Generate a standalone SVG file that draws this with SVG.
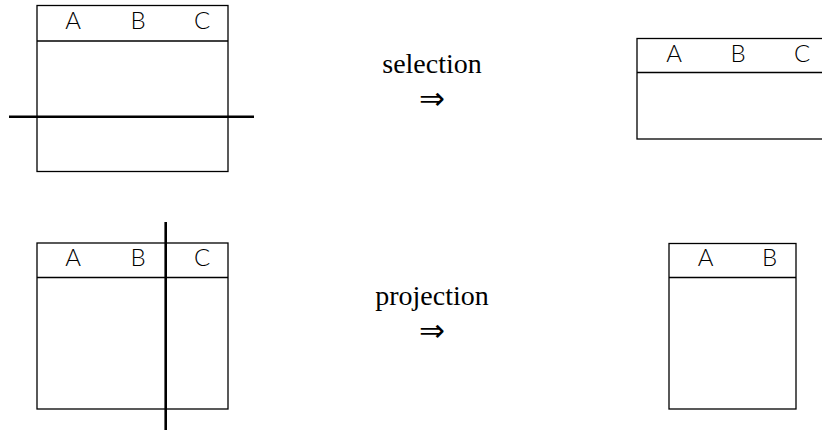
<svg xmlns="http://www.w3.org/2000/svg" width="822" height="432" viewBox="0 0 822 432">
<style>
.box{fill:none;stroke:#000;stroke-width:1.3}
.cut{stroke:#000;stroke-width:2.6}
.col{font-family:"Lato","DejaVu Sans",sans-serif;font-weight:300;font-size:24px;text-anchor:middle;fill:#000}
.op{font-family:"Liberation Serif","DejaVu Serif",serif;font-size:28px;text-anchor:middle;fill:#000}
.arr{font-family:"DejaVu Sans",sans-serif;font-size:31px;text-anchor:middle;fill:#000}
</style>
<rect width="822" height="432" fill="#fff"/>
<g id="table-sel-src">
<rect class="box" x="37" y="5.5" width="191" height="166"/>
<line class="box" x1="37" y1="41" x2="228" y2="41"/>
<text class="col" x="73" y="28.5">A</text>
<text class="col" x="138" y="28.5">B</text>
<text class="col" x="202" y="28.5">C</text>
</g>
<g id="table-sel-out">
<rect class="box" x="637" y="38.5" width="191" height="100.5"/>
<line class="box" x1="637" y1="72.5" x2="828" y2="72.5"/>
<text class="col" x="674" y="62">A</text>
<text class="col" x="738" y="62">B</text>
<text class="col" x="802" y="62">C</text>
</g>
<g id="table-proj-src">
<rect class="box" x="37" y="243" width="191" height="166"/>
<line class="box" x1="37" y1="277.5" x2="228" y2="277.5"/>
<text class="col" x="73" y="266">A</text>
<text class="col" x="138" y="266">B</text>
<text class="col" x="202" y="266">C</text>
</g>
<g id="table-proj-out">
<rect class="box" x="669" y="243.5" width="127" height="165.5"/>
<line class="box" x1="669" y1="277.5" x2="796" y2="277.5"/>
<text class="col" x="705.5" y="265.5">A</text>
<text class="col" x="769.5" y="265.5">B</text>
</g>
<g id="label-selection">
<text class="op" x="432" y="73">selection</text>
<text class="arr" x="432" y="109">⇒</text>
</g>
<g id="label-projection">
<text class="op" x="432" y="305">projection</text>
<text class="arr" x="432" y="341">⇒</text>
</g>
<g id="connectors">
<line class="cut" x1="9" y1="116.7" x2="254" y2="116.7"/>
<line class="cut" x1="165.7" y1="222" x2="165.7" y2="430"/>
</g>
</svg>
